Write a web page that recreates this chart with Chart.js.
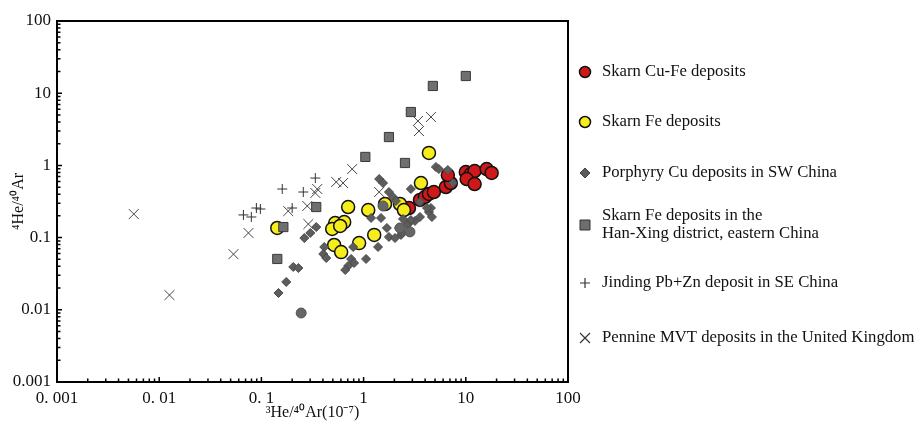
<!DOCTYPE html>
<html>
<head>
<meta charset="utf-8">
<script src="https://cdn.jsdelivr.net/npm/chart.js@4.4.1/dist/chart.umd.min.js"></script>
<style>
  html, body { margin: 0; padding: 0; background: #fff; }
</style>
</head>
<body>
<canvas id="myChart" width="920" height="423"></canvas>
<script>
// 3He/40Ar (10^-7) vs 4He/40Ar, both axes log
const skarnCuFe = [
  [2.78, 0.257], [3.56, 0.332], [3.98, 0.365], [4.36, 0.402], [4.87, 0.428],
  [6.38, 0.502], [7.14, 0.57], [6.67, 0.736], [10.0, 0.81], [11.2, 0.76],
  [12.2, 0.836], [10.2, 0.648], [12.2, 0.552], [16.0, 0.891], [17.9, 0.785]
];
const skarnFe = [
  [0.143, 0.136], [0.706, 0.265], [1.11, 0.241], [1.62, 0.292], [2.27, 0.292],
  [2.48, 0.241], [4.36, 1.49], [3.64, 0.57], [0.527, 0.159], [0.646, 0.164],
  [0.493, 0.132], [0.59, 0.145], [0.515, 0.079], [0.603, 0.063], [0.904, 0.084],
  [1.27, 0.109]
];
const porphyry = [
  [0.147, 0.0171], [0.175, 0.0243], [0.205, 0.0392], [0.23, 0.0379], [0.263, 0.0986],
  [0.301, 0.116], [0.344, 0.140], [0.412, 0.0741], [0.403, 0.0593], [0.431, 0.0521],
  [0.791, 0.0741], [0.755, 0.0506], [0.807, 0.0445], [0.706, 0.0405], [0.661, 0.0356],
  [1.057, 0.0506], [1.385, 0.0741], [1.183, 0.187], [1.48, 0.187], [1.69, 0.136],
  [1.77, 0.102], [2.03, 0.0986], [2.32, 0.109], [1.42, 0.648], [1.55, 0.57],
  [1.77, 0.428], [1.94, 0.365], [2.07, 0.321], [2.90, 0.471], [2.43, 0.181],
  [2.72, 0.154], [3.18, 0.170], [3.56, 0.193], [4.36, 0.226], [4.66, 0.193],
  [4.56, 0.257], [4.17, 0.257], [5.10, 0.95], [5.45, 0.89], [6.67, 0.863],
  [7.47, 0.57], [2.90, 0.175], [2.66, 0.150], [2.22, 0.136], [2.38, 0.116],
  [3.56, 0.311]
];
const porphyryCircles = [[0.245, 0.00903], [1.55, 0.274], [2.27, 0.136], [2.84, 0.120]];
const hanXing = [
  [0.143, 0.0506], [0.164, 0.140], [0.344, 0.265], [1.04, 1.31], [1.77, 2.47],
  [2.54, 1.08], [2.90, 5.49], [4.76, 12.6], [10.0, 17.3]
];
const jinding = [
  [0.0667, 0.206], [0.0797, 0.193], [0.0893, 0.257], [0.0977, 0.249],
  [0.160, 0.471], [0.200, 0.257], [0.257, 0.428], [0.337, 0.668]
];
const pennine = [
  [0.00564, 0.212], [0.0126, 0.016], [0.0533, 0.059], [0.0747, 0.116], [0.183, 0.233],
  [0.281, 0.274], [0.288, 0.154], [0.337, 0.415], [0.352, 0.471], [0.54, 0.589],
  [0.63, 0.57], [0.773, 0.89], [1.42, 0.428], [3.40, 4.12], [4.56, 4.68], [3.48, 2.99]
];

const seriesNames = [
  'Skarn Cu-Fe deposits',
  'Skarn Fe deposits',
  'Porphyry Cu deposits in SW China',
  ['Skarn Fe deposits in the', 'Han-Xing district, eastern China'],
  'Jinding Pb+Zn deposit in SE China',
  'Pennine MVT deposits in the United Kingdom'
];
const tickValues = [0.001, 0.01, 0.1, 1, 10, 100];
const xTickLabels = ['0. 001', '0. 01', '0. 1', '1', '10', '100'];
const yTickLabels = ['0.001', '0.01', '0.1', '1', '10', '100'];

const serif = "'Liberation Serif', 'Times New Roman', serif";
const toXY = arr => arr.map(p => ({x: p[0], y: p[1]}));

function tickIndex(v) {
  return tickValues.findIndex(t => Math.abs(Math.log10(t) - Math.log10(v)) < 1e-6);
}

function drawSymbol(ctx, style, x, y, r, fill, stroke, lw) {
  ctx.save();
  ctx.fillStyle = fill;
  ctx.strokeStyle = stroke;
  ctx.lineWidth = lw;
  ctx.beginPath();
  if (style === 'circle') {
    ctx.arc(x, y, r, 0, Math.PI * 2);
    ctx.fill(); ctx.stroke();
  } else if (style === 'rect') {
    ctx.rect(x - r, y - r, 2 * r, 2 * r);
    ctx.fill(); ctx.stroke();
  } else if (style === 'rectRot') {
    ctx.moveTo(x, y - r); ctx.lineTo(x + r, y); ctx.lineTo(x, y + r); ctx.lineTo(x - r, y);
    ctx.closePath(); ctx.fill(); ctx.stroke();
  } else if (style === 'cross') {
    ctx.moveTo(x - r, y); ctx.lineTo(x + r, y);
    ctx.moveTo(x, y - r); ctx.lineTo(x, y + r);
    ctx.stroke();
  } else {
    ctx.moveTo(x - r, y - r); ctx.lineTo(x + r, y + r);
    ctx.moveTo(x + r, y - r); ctx.lineTo(x - r, y + r);
    ctx.stroke();
  }
  ctx.restore();
}

// frame, inward minor ticks, and the legend on the right
const framePlugin = {
  id: 'framePlugin',
  afterDraw(chart) {
    const {ctx, chartArea: a, scales} = chart;
    ctx.save();
    ctx.strokeStyle = '#000';
    ctx.lineWidth = 1.5;
    ctx.beginPath();
    for (let e = -3; e <= 1; e++) {
      for (let m = 1; m <= 9; m++) {
        const v = m * Math.pow(10, e);
        const len = m === 1 ? 5 : 3.5;
        const px = scales.x.getPixelForValue(v);
        ctx.moveTo(px, a.bottom); ctx.lineTo(px, a.bottom - len);
        const py = scales.y.getPixelForValue(v);
        ctx.moveTo(a.left, py); ctx.lineTo(a.left + len, py);
      }
    }
    ctx.stroke();
    ctx.lineWidth = 2;
    ctx.strokeRect(a.left, a.top, a.right - a.left, a.bottom - a.top);

    const rowY = [72, 122, 173, 225, 283, 338];
    const syms = [
      ['circle', 5.5, '#d01818', '#111', 1.5],
      ['circle', 5.5, '#f5ee1c', '#111', 1.5],
      ['rectRot', 5, '#5a5a5a', '#444', 1],
      ['rect', 5, '#6e6e6e', '#333', 1],
      ['cross', 5, '#333', '#333', 1.2],
      ['crossRot', 5, '#333', '#333', 1.2]
    ];
    ctx.font = '16.7px ' + serif;
    ctx.fillStyle = '#111';
    ctx.textBaseline = 'middle';
    ctx.textAlign = 'left';
    seriesNames.forEach((name, i) => {
      const s = syms[i];
      drawSymbol(ctx, s[0], 585, rowY[i], s[1], s[2], s[3], s[4]);
      if (Array.isArray(name)) {
        ctx.fillText(name[0], 602, rowY[i] - 9);
        ctx.fillText(name[1], 602, rowY[i] + 9);
      } else {
        ctx.fillText(name, 602, rowY[i]);
      }
    });
    ctx.restore();
  }
};

const ctx = document.getElementById('myChart');

const myChart = new Chart(ctx, {
  type: 'scatter',
  data: {
    datasets: [
      {
        label: 'Pennine MVT deposits in the United Kingdom',
        data: toXY(pennine),
        pointStyle: 'crossRot',
        radius: 7,
        borderColor: '#444',
        borderWidth: 1
      },
      {
        label: 'Jinding Pb+Zn deposit in SE China',
        data: toXY(jinding),
        pointStyle: 'cross',
        radius: 5,
        borderColor: '#333',
        borderWidth: 1
      },
      {
        label: 'porphyry circles',
        data: toXY(porphyryCircles),
        pointStyle: 'circle',
        radius: 5,
        backgroundColor: '#666',
        borderColor: '#555',
        borderWidth: 1
      },
      {
        label: 'Porphyry Cu deposits in SW China',
        data: toXY(porphyry),
        pointStyle: 'rectRot',
        radius: 4.5,
        backgroundColor: '#5d5d5d',
        borderColor: '#4a4a4a',
        borderWidth: 1
      },
      {
        label: 'Skarn Fe deposits in the Han-Xing district, eastern China',
        data: toXY(hanXing),
        pointStyle: 'rect',
        radius: 6.5,
        backgroundColor: '#6f6f6f',
        borderColor: '#3a3a3a',
        borderWidth: 1
      },
      {
        label: 'Skarn Fe deposits',
        data: toXY(skarnFe),
        pointStyle: 'circle',
        radius: 6.5,
        backgroundColor: '#f5ee1c',
        borderColor: '#111',
        borderWidth: 1.5
      },
      {
        label: 'Skarn Cu-Fe deposits',
        data: toXY(skarnCuFe),
        pointStyle: 'circle',
        radius: 6.5,
        backgroundColor: '#d01818',
        borderColor: '#111',
        borderWidth: 1.5
      }
    ]
  },
  options: {
    responsive: false,
    animation: false,
    layout: {
      padding: {left: 0, right: 352, top: 21, bottom: 0}
    },
    plugins: {
      legend: { display: false },
      tooltip: { enabled: false }
    },
    scales: {
      x: {
        type: 'logarithmic',
        min: 0.001,
        max: 100,
        afterBuildTicks: s => { s.ticks = tickValues.map(v => ({value: v})); },
        afterFit: s => { s.height = 41; },
        grid: { display: false, drawTicks: false },
        border: { display: false },
        ticks: {
          autoSkip: false,
          maxRotation: 0,
          padding: 6,
          color: '#111',
          font: { family: serif, size: 17 },
          callback: v => xTickLabels[tickIndex(v)]
        },
        title: {
          display: true,
          text: '³He/⁴⁰Ar(10⁻⁷)',
          color: '#111',
          font: { family: serif, size: 16 },
          padding: { top: 0, bottom: 1 }
        }
      },
      y: {
        type: 'logarithmic',
        min: 0.001,
        max: 100,
        afterBuildTicks: s => { s.ticks = tickValues.map(v => ({value: v})); },
        afterFit: s => { s.width = 57; },
        grid: { display: false, drawTicks: false },
        border: { display: false },
        ticks: {
          autoSkip: false,
          padding: 6,
          color: '#111',
          font: { family: serif, size: 17 },
          callback: v => yTickLabels[tickIndex(v)]
        },
        title: {
          display: true,
          text: '⁴He/⁴⁰Ar',
          color: '#111',
          font: { family: serif, size: 16 },
          padding: { top: 9, bottom: 0 }
        }
      }
    }
  },
  plugins: [framePlugin]
});
</script>
</body>
</html>
